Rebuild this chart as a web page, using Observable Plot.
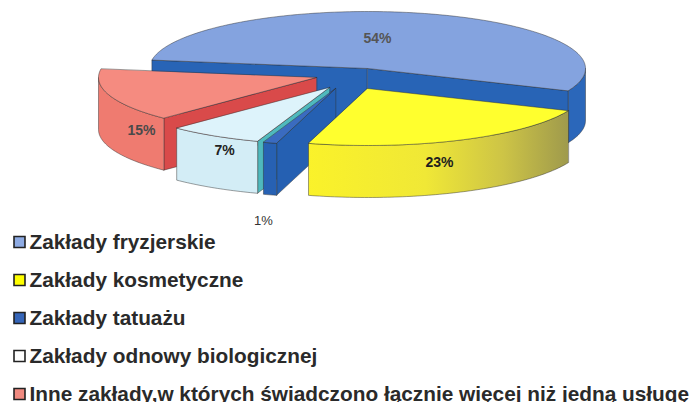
<!DOCTYPE html>
<html>
<head>
<meta charset="utf-8">
<script src="https://cdn.jsdelivr.net/npm/d3@7"></script>
<script src="https://cdn.jsdelivr.net/npm/@observablehq/plot@0.6"></script>
<style>
  html, body { margin: 0; padding: 0; background: #ffffff; }
  #chart svg { display: block; }
</style>
</head>
<body>
<div id="chart"></div>
<script>
// ---------- data ----------
const categories = [
  "Zakłady fryzjerskie",
  "Zakłady kosmetyczne",
  "Zakłady tatuażu",
  "Zakłady odnowy biologicznej",
  "Inne zakłady,w których świadczono łącznie więcej niż jedną usługę"
];
const shares = [54, 23, 1, 7, 15];
const valueLabels = ["54%", "23%", "1%", "7%", "15%"];

// ---------- layout / style ----------
const W = 698, H = 402;
const PIE = {cx: 367, cy: 68, rx: 218, ry: 57, h: 52, startDeg: 278.5};
const explode = [[0, 0], [0, 20], [-32, 20], [-38, 19], [-51, 9]];
const topColors  = ["#84a3df", "#ffff2e", "#3a6bc0", "#ddf3fb", "#f58b80"];
const sideColors = ["#2b67ba", "url(#ySide)", "#2761b3", "#d3edf6", "#ef7b70"];
const faceColors = ["#2864b6", "#c9c030", "#2560b2", "#4fb9bd", "#d94a4a"];
const legendFill = ["#8eabe3", "#ffff00", "#3565b8", "#ffffff", "#f08a80"];
const labelAt = [[0.046, -0.526], [0.33, 1.65], [-0.477, 2.667], [-0.656, 1.44], [-1.037, 1.088]];
const labelStyle = [
  {fill: "#555", weight: "bold", size: 14},
  {fill: "#1e1e1e", weight: "bold", size: 14},
  {fill: "#333", weight: "normal", size: 13},
  {fill: "#222", weight: "bold", size: 14},
  {fill: "#4a4a4a", weight: "bold", size: 14}
];
const drawOrder = [0, 4, 3, 2, 1];
const FONT = "'Liberation Sans', Arial, Helvetica, sans-serif";

// ---------- geometry from data ----------
const a0 = PIE.startDeg * Math.PI / 180;
const arcs = d3.pie().sort(null).startAngle(a0).endAngle(a0 + 2 * Math.PI)(shares);

function P(a, r, z, off) {
  return {x: PIE.cx + off[0] + r * PIE.rx * Math.sin(a), y: PIE.cy + off[1] - r * PIE.ry * Math.cos(a) + z};
}
function sample(s, e) {
  const n = Math.max(2, Math.ceil(Math.abs(e - s) / (Math.PI / 180)));
  return d3.range(n + 1).map(k => s + (e - s) * k / n);
}
function frontIntervals(s, e) {
  const out = [];
  for (let k = -1; k <= 2; k++) {
    const lo = Math.max(s, Math.PI / 2 + 2 * Math.PI * k);
    const hi = Math.min(e, 3 * Math.PI / 2 + 2 * Math.PI * k);
    if (hi > lo) out.push([lo, hi]);
  }
  return out;
}

const polys = []; // {pts, fill}
for (const i of drawOrder) {
  const {startAngle: s, endAngle: e} = arcs[i];
  const off = explode[i];
  const h = PIE.h;
  // radial faces
  const faces = [];
  if (Math.sin(s) < 0) faces.push(s);
  if (Math.sin(e) > 0) faces.push(e);
  faces.sort((p, q) => Math.cos(q) - Math.cos(p));
  for (const a of faces) {
    polys.push({fill: faceColors[i], pts: [P(a, 0, 0, off), P(a, 1, 0, off), P(a, 1, h, off), P(a, 0, h, off)]});
  }
  // outer side
  for (const [lo, hi] of frontIntervals(s, e)) {
    const as = sample(lo, hi);
    const pts = as.map(a => P(a, 1, 0, off)).concat(as.slice().reverse().map(a => P(a, 1, h, off)));
    polys.push({fill: sideColors[i], pts});
  }
  // top
  polys.push({fill: topColors[i], pts: [P(s, 0, 0, off)].concat(sample(s, e).map(a => P(a, 1, 0, off)))});
}

const labelData = valueLabels.map((t, i) => ({
  t, x: PIE.cx + labelAt[i][0] * PIE.rx, y: PIE.cy + labelAt[i][1] * PIE.ry, ...labelStyle[i]
}));

const legendData = categories.map((c, i) => ({c, i, fill: legendFill[i], x: 29, y: 248 + 38 * i}));

const defs = () => {
  const g = d3.create("svg:defs");
  const lg = g.append("linearGradient").attr("id", "ySide").attr("x1", 0).attr("x2", 1).attr("y1", 0).attr("y2", 0);
  [[0, "#faf22a"], [0.45, "#f0e836"], [0.75, "#cdc446"], [1, "#9f9a4c"]].forEach(([o, c]) =>
    lg.append("stop").attr("offset", o).attr("stop-color", c));
  return g.node();
};

const marks = [defs];
for (const p of polys) {
  marks.push(Plot.line(p.pts, {x: "x", y: "y", curve: "linear-closed", fill: p.fill,
    stroke: "#2e2e2e", strokeWidth: 0.7, strokeOpacity: 0.65, strokeLinejoin: "round"}));
}
for (const w of ["bold", "normal"]) {
  for (const sz of [13, 14]) {
    const d = labelData.filter(l => l.weight === w && l.size === sz);
    if (!d.length) continue;
    marks.push(Plot.text(d, {x: "x", y: "y", text: "t", fill: "fill", fontSize: sz, fontWeight: w,
      fontFamily: FONT, textAnchor: "middle", lineAnchor: "middle"}));
  }
}
marks.push(Plot.dot(legendData, {x: d => d.x - 10, y: d => d.y - 6.5, symbol: "square", r: 6.2,
  fill: "fill", stroke: "#222", strokeWidth: 1.6}));
marks.push(Plot.text(legendData, {x: "x", y: "y", text: "c", fill: "#2a2a2a", fontSize: 20.8,
  fontWeight: "bold", fontFamily: FONT, textAnchor: "start", lineAnchor: "bottom"}));

const chart = Plot.plot({
  width: W, height: H,
  margin: 0,
  style: {background: "#ffffff", overflow: "hidden"},
  x: {domain: [0, W], range: [0, W], axis: null},
  y: {domain: [0, H], range: [0, H], axis: null},
  color: {type: "identity"},
  marks
});
document.getElementById("chart").appendChild(chart);
</script>
</body>
</html>
